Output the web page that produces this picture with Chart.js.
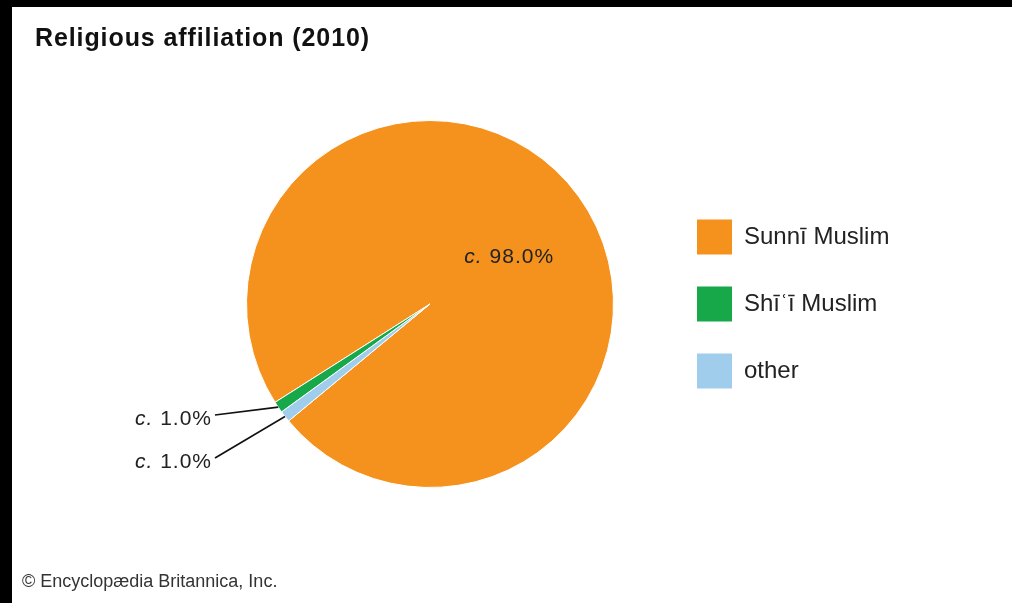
<!DOCTYPE html>
<html><head><meta charset="utf-8">
<script src="https://cdn.jsdelivr.net/npm/chart.js@4.4.1/dist/chart.umd.min.js"></script>
<style>
html,body{margin:0;padding:0;background:#000;width:1012px;height:603px;overflow:hidden}
#panel{position:absolute;left:12px;top:7px;width:1000px;height:596px;background:#fff}
#title{position:absolute;left:23px;top:18px;font:bold 25px "Liberation Sans",Arial,sans-serif;letter-spacing:0.9px;color:#111;line-height:25px;white-space:nowrap}
#credit{position:absolute;left:10px;top:565px;font:18px "Liberation Sans",Arial,sans-serif;color:#333;line-height:18px;white-space:nowrap}
canvas{position:absolute;left:0;top:0}
</style></head><body>
<div id="panel">
<canvas id="c" width="1000" height="596"></canvas>
<div id="title">Religious affiliation (2010)</div>
<div id="credit">© Encyclopædia Britannica, Inc.</div>
</div>
<script>
// Data (legend order)
const categories = ['Sunnī Muslim', 'Shīʿī Muslim', 'other'];
const values = [98.0, 1.0, 1.0];
const colors = ['#F5921E', '#17A84A', '#A0CDEC'];
// drawing order around the pie (clockwise)
const drawOrder = [0, 2, 1];

const FONT = '"Liberation Sans", Arial, sans-serif';
const LEGEND_FONT_SIZE = 24;
const LEGEND_BOX = 35;
const LEGEND_PAD = 32;

// legend width as Chart.js computes it, so the legend starts where wanted
const mctx = document.createElement('canvas').getContext('2d');
mctx.font = LEGEND_FONT_SIZE + 'px ' + FONT;
const maxTextW = Math.max(...categories.map(t => mctx.measureText(t).width));
const legendW = LEGEND_PAD + LEGEND_BOX + LEGEND_FONT_SIZE / 2 + maxTextW + 10;
const legendLeft = 653;
const padRight = Math.max(0, 1000 - legendLeft - legendW);

function drawLabel(ctx, x, y, v, align) {
  const a = 'c.';
  const b = ' ' + v.toFixed(1) + '%';
  ctx.font = 'italic 21px ' + FONT;
  const wa = ctx.measureText(a).width;
  ctx.font = '21px ' + FONT;
  const wb = ctx.measureText(b).width;
  const total = wa + wb;
  let sx = x;
  if (align === 'center') sx = x - total / 2;
  else if (align === 'right') sx = x - total;
  ctx.textAlign = 'left';
  ctx.font = 'italic 21px ' + FONT;
  ctx.fillText(a, sx, y);
  ctx.font = '21px ' + FONT;
  ctx.fillText(b, sx + wa, y);
}

const smallSlots = [{dx: -215, dy: 111}, {dx: -215, dy: 154}];

const sliceLabels = {
  id: 'sliceLabels',
  afterDatasetsDraw(chart) {
    const ctx = chart.ctx;
    const meta = chart.getDatasetMeta(0);
    const ds = chart.data.datasets[0];
    ctx.save();
    ctx.letterSpacing = '1px';
    ctx.fillStyle = '#222';
    ctx.textBaseline = 'middle';
    const smalls = [];
    meta.data.forEach((arc, i) => {
      const v = ds.data[i];
      const p = arc.getProps(['x', 'y', 'startAngle', 'endAngle', 'outerRadius'], true);
      const mid = (p.startAngle + p.endAngle) / 2;
      if (v >= 50) {
        const c = arc.tooltipPosition(true);
        drawLabel(ctx, c.x + 5, c.y + 7, v, 'center');
      } else {
        smalls.push({v, p, mid});
      }
    });
    const norm = a => ((a % (2 * Math.PI)) + 2 * Math.PI) % (2 * Math.PI);
    smalls.sort((m, n) => norm(n.mid) - norm(m.mid));
    smalls.forEach((s, k) => {
      const slot = smallSlots[k] || smallSlots[smallSlots.length - 1];
      const ex = s.p.x + s.p.outerRadius * Math.cos(s.mid);
      const ey = s.p.y + s.p.outerRadius * Math.sin(s.mid);
      const lx = s.p.x + slot.dx;
      const ly = s.p.y + slot.dy;
      ctx.strokeStyle = '#111';
      ctx.lineWidth = 1.6;
      ctx.beginPath();
      ctx.moveTo(lx, ly);
      ctx.lineTo(ex, ey);
      ctx.stroke();
      drawLabel(ctx, lx - 3, ly + 4, s.v, 'right');
    });
    ctx.restore();
  }
};

const labels = drawOrder.map(i => categories[i]);
const data = drawOrder.map(i => values[i]);
const bg = drawOrder.map(i => colors[i]);

new Chart(document.getElementById('c'), {
  type: 'pie',
  data: {
    labels,
    datasets: [{
      data,
      backgroundColor: bg,
      borderColor: '#ffffff',
      borderWidth: 1
    }]
  },
  options: {
    responsive: false,
    animation: false,
    rotation: 237.6,
    layout: { padding: { left: 183, right: padRight, top: 113, bottom: 115 } },
    plugins: {
      tooltip: { enabled: false },
      title: { display: false },
      legend: {
        display: true,
        position: 'right',
        align: 'center',
        labels: {
          boxWidth: LEGEND_BOX,
          boxHeight: LEGEND_BOX,
          padding: LEGEND_PAD,
          color: '#222',
          font: { family: FONT, size: LEGEND_FONT_SIZE },
          sort: (a, b) => categories.indexOf(a.text) - categories.indexOf(b.text),
          generateLabels: (chart) => {
            const base = Chart.overrides.pie.plugins.legend.labels.generateLabels(chart);
            return base.map(l => Object.assign(l, { lineWidth: 0, strokeStyle: 'rgba(0,0,0,0)' }));
          }
        }
      }
    }
  },
  plugins: [sliceLabels]
});
</script>
</body></html>
